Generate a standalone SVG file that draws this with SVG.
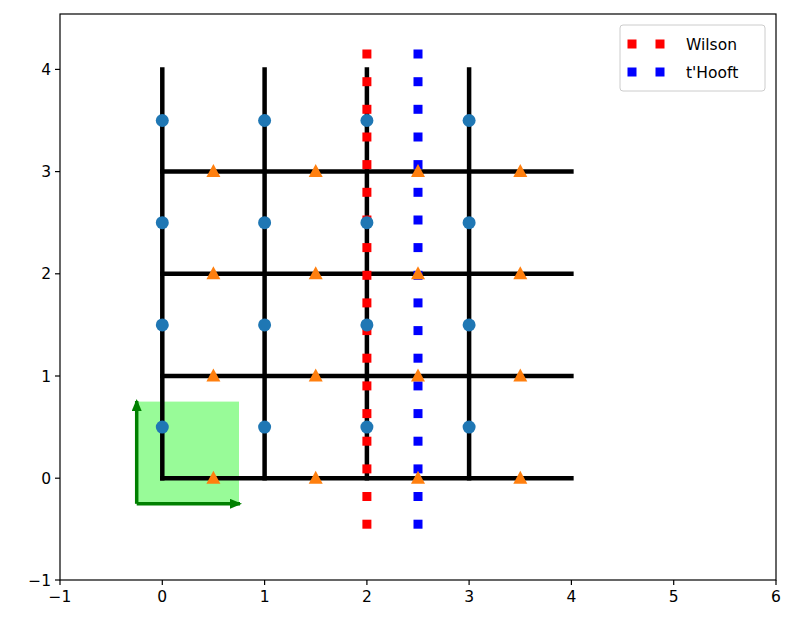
<svg xmlns="http://www.w3.org/2000/svg" width="797" height="630" viewBox="0 0 797 630">
<defs>
<style>
text{font-family:"DejaVu Sans",sans-serif;font-size:15.5px;fill:#000}
.g{stroke:#000;stroke-width:4.5;stroke-linecap:square}
.t{stroke:#000;stroke-width:1.2}
</style>
<rect id="rs" x="-4.5" y="-4.5" width="9" height="9" fill="#ff0000"/>
<rect id="bs" x="-4.5" y="-4.5" width="9" height="9" fill="#0000ff"/>
<circle id="c" r="6.5" fill="#1f77b4"/>
<polygon id="tr" points="0,-7.5 7,5.5 -7,5.5" fill="#ff7f0e"/>
<marker id="ah" markerWidth="12" markerHeight="10" refX="10" refY="5" orient="auto" markerUnits="userSpaceOnUse"><path d="M0,0 L12,5 L0,10 Z" fill="#008000"/></marker>
</defs>
<rect width="797" height="630" fill="#fff"/>
<g id="box">
<rect x="136.7" y="401.6" width="102.3" height="102.2" fill="#98fb98"/>
</g>
<g id="connectors">
<line class="g" x1="162.3" y1="478.2" x2="162.3" y2="69.4"/>
<line class="g" x1="264.6" y1="478.2" x2="264.6" y2="69.4"/>
<line class="g" x1="366.9" y1="478.2" x2="366.9" y2="69.4"/>
<line class="g" x1="469.1" y1="478.2" x2="469.1" y2="69.4"/>
<line class="g" x1="162.3" y1="478.2" x2="571.4" y2="478.2"/>
<line class="g" x1="162.3" y1="376" x2="571.4" y2="376"/>
<line class="g" x1="162.3" y1="273.8" x2="571.4" y2="273.8"/>
<line class="g" x1="162.3" y1="171.6" x2="571.4" y2="171.6"/>
<line x1="136.7" y1="503.8" x2="136.7" y2="401" stroke="#008000" stroke-width="3.5" marker-end="url(#ah)"/>
<line x1="136.7" y1="503.8" x2="240" y2="503.8" stroke="#008000" stroke-width="3.5" marker-end="url(#ah)"/>
</g>
<g id="wilson">
<use href="#rs" x="366.9" y="54"/><use href="#rs" x="366.9" y="81.7"/><use href="#rs" x="366.9" y="109.3"/><use href="#rs" x="366.9" y="137"/><use href="#rs" x="366.9" y="164.6"/><use href="#rs" x="366.9" y="192.3"/><use href="#rs" x="366.9" y="220"/><use href="#rs" x="366.9" y="247.6"/><use href="#rs" x="366.9" y="275.3"/><use href="#rs" x="366.9" y="302.9"/><use href="#rs" x="366.9" y="330.6"/><use href="#rs" x="366.9" y="358.2"/><use href="#rs" x="366.9" y="385.9"/><use href="#rs" x="366.9" y="413.6"/><use href="#rs" x="366.9" y="441.2"/><use href="#rs" x="366.9" y="468.9"/><use href="#rs" x="366.9" y="496.5"/><use href="#rs" x="366.9" y="524.2"/>
</g>
<g id="thooft">
<use href="#bs" x="418" y="54"/><use href="#bs" x="418" y="81.7"/><use href="#bs" x="418" y="109.3"/><use href="#bs" x="418" y="137"/><use href="#bs" x="418" y="164.6"/><use href="#bs" x="418" y="192.3"/><use href="#bs" x="418" y="220"/><use href="#bs" x="418" y="247.6"/><use href="#bs" x="418" y="275.3"/><use href="#bs" x="418" y="302.9"/><use href="#bs" x="418" y="330.6"/><use href="#bs" x="418" y="358.2"/><use href="#bs" x="418" y="385.9"/><use href="#bs" x="418" y="413.6"/><use href="#bs" x="418" y="441.2"/><use href="#bs" x="418" y="468.9"/><use href="#bs" x="418" y="496.5"/><use href="#bs" x="418" y="524.2"/>
</g>
<g id="circles">
<use href="#c" x="162.3" y="427.1"/><use href="#c" x="162.3" y="324.9"/><use href="#c" x="162.3" y="222.7"/><use href="#c" x="162.3" y="120.5"/>
<use href="#c" x="264.6" y="427.1"/><use href="#c" x="264.6" y="324.9"/><use href="#c" x="264.6" y="222.7"/><use href="#c" x="264.6" y="120.5"/>
<use href="#c" x="366.9" y="427.1"/><use href="#c" x="366.9" y="324.9"/><use href="#c" x="366.9" y="222.7"/><use href="#c" x="366.9" y="120.5"/>
<use href="#c" x="469.1" y="427.1"/><use href="#c" x="469.1" y="324.9"/><use href="#c" x="469.1" y="222.7"/><use href="#c" x="469.1" y="120.5"/>
</g>
<g id="triangles">
<use href="#tr" x="213.4" y="478.2"/><use href="#tr" x="213.4" y="376"/><use href="#tr" x="213.4" y="273.8"/><use href="#tr" x="213.4" y="171.6"/>
<use href="#tr" x="315.7" y="478.2"/><use href="#tr" x="315.7" y="376"/><use href="#tr" x="315.7" y="273.8"/><use href="#tr" x="315.7" y="171.6"/>
<use href="#tr" x="418" y="478.2"/><use href="#tr" x="418" y="376"/><use href="#tr" x="418" y="273.8"/><use href="#tr" x="418" y="171.6"/>
<use href="#tr" x="520.3" y="478.2"/><use href="#tr" x="520.3" y="376"/><use href="#tr" x="520.3" y="273.8"/><use href="#tr" x="520.3" y="171.6"/>
</g>
<g id="axes">
<rect x="60" y="14" width="716" height="566" fill="none" stroke="#000" stroke-width="1.2"/>
<g class="t">
<line x1="60" y1="580" x2="60" y2="585"/><line x1="162.3" y1="580" x2="162.3" y2="585"/><line x1="264.6" y1="580" x2="264.6" y2="585"/><line x1="366.9" y1="580" x2="366.9" y2="585"/><line x1="469.1" y1="580" x2="469.1" y2="585"/><line x1="571.4" y1="580" x2="571.4" y2="585"/><line x1="673.7" y1="580" x2="673.7" y2="585"/><line x1="776" y1="580" x2="776" y2="585"/>
<line x1="55" y1="580" x2="60" y2="580"/><line x1="55" y1="478.2" x2="60" y2="478.2"/><line x1="55" y1="376" x2="60" y2="376"/><line x1="55" y1="273.8" x2="60" y2="273.8"/><line x1="55" y1="171.6" x2="60" y2="171.6"/><line x1="55" y1="69.4" x2="60" y2="69.4"/>
</g>
<g text-anchor="middle">
<text x="60" y="602">−1</text><text x="162.3" y="602">0</text><text x="264.6" y="602">1</text><text x="366.9" y="602">2</text><text x="469.1" y="602">3</text><text x="571.4" y="602">4</text><text x="673.7" y="602">5</text><text x="776" y="602">6</text>
</g>
<g text-anchor="end">
<text x="51" y="585.5">−1</text><text x="51" y="483.7">0</text><text x="51" y="381.5">1</text><text x="51" y="279.3">2</text><text x="51" y="177.1">3</text><text x="51" y="74.9">4</text>
</g>
</g>
<g id="legend">
<rect x="620" y="25" width="145" height="66" rx="3" fill="#fff" fill-opacity="0.8" stroke="#ccc"/>
<use href="#rs" x="632" y="44"/><use href="#rs" x="660" y="44"/>
<use href="#bs" x="632" y="72"/><use href="#bs" x="660" y="72"/>
<text x="686" y="50">Wilson</text>
<text x="686" y="78">t'Hooft</text>
</g>
</svg>
